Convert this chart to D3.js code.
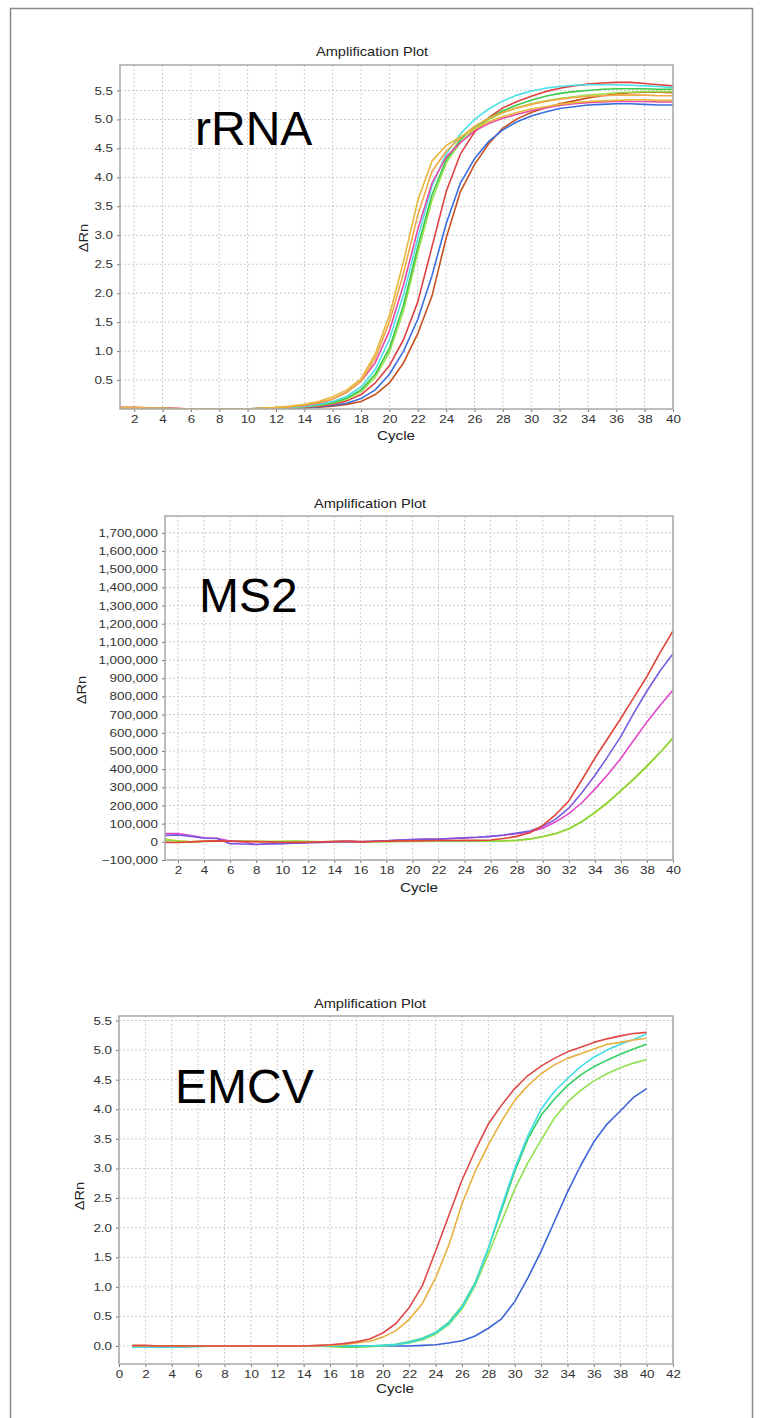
<!DOCTYPE html>
<html><head><meta charset="utf-8">
<script src="https://cdn.jsdelivr.net/npm/d3@7"></script>
<style>body{margin:0;background:#fff}svg{display:block}text{font-family:"Liberation Sans",Arial,sans-serif}</style>
</head><body>
<svg id="c" width="763" height="1418"></svg>
<script>
const cycles = [1,2,3,4,5,6,7,8,9,10,11,12,13,14,15,16,17,18,19,20,21,22,23,24,25,26,27,28,29,30,31,32,33,34,35,36,37,38,39,40];

// rRNA panel
const rrnaColors = ["#e6b83c","#f0a845","#e84aa8","#4ee0e8","#3cc84a","#9ae04a","#e04040","#3a6ee0","#c8501e"];
const rrnaGold = [0.02,0.02,0.01,0.01,0,0,0,0,0,0,0.01,0.03,0.05,0.08,0.13,0.21,0.33,0.52,0.95,1.62,2.55,3.6,4.28,4.55,4.7,4.83,4.96,5.05,5.12,5.18,5.22,5.26,5.29,5.31,5.32,5.33,5.34,5.34,5.33,5.33];
const rrnaOrange = [0.02,0.02,0.01,0.01,0,0,0,0,0,0,0.01,0.02,0.04,0.07,0.11,0.17,0.29,0.48,0.88,1.5,2.35,3.35,4.1,4.45,4.68,4.88,5.02,5.12,5.2,5.26,5.31,5.35,5.38,5.4,5.41,5.42,5.42,5.42,5.41,5.41];
const rrnaPink = [0.02,0.02,0.01,0.01,0,0,0,0,0,0,0.01,0.02,0.04,0.06,0.1,0.17,0.29,0.48,0.8,1.35,2.15,3.1,3.9,4.35,4.6,4.8,4.93,5.02,5.09,5.15,5.2,5.24,5.27,5.29,5.3,5.31,5.31,5.31,5.3,5.3];
const rrnaCyan = [0.02,0.02,0.01,0.01,0,0,0,0,0,0,0.01,0.02,0.03,0.05,0.08,0.13,0.22,0.38,0.68,1.2,1.98,2.95,3.85,4.4,4.75,5.0,5.18,5.32,5.42,5.49,5.54,5.57,5.59,5.6,5.6,5.6,5.59,5.58,5.57,5.55];
const rrnaGreen = [0.02,0.02,0.01,0.01,0,0,0,0,0,0,0.01,0.02,0.03,0.05,0.07,0.11,0.19,0.33,0.6,1.05,1.8,2.8,3.7,4.3,4.65,4.87,5.02,5.15,5.25,5.33,5.4,5.45,5.48,5.5,5.52,5.53,5.53,5.53,5.52,5.52];
const rrnaLightGreen = [0.02,0.02,0.01,0.01,0,0,0,0,0,0,0.01,0.01,0.02,0.04,0.06,0.1,0.17,0.3,0.55,0.98,1.7,2.7,3.6,4.25,4.6,4.83,5.0,5.12,5.2,5.27,5.32,5.36,5.39,5.42,5.44,5.46,5.47,5.48,5.48,5.48];
const rrnaRed = [0.03,0.03,0.02,0.02,0.01,0,0,0,0,0,0.01,0.01,0.02,0.03,0.05,0.08,0.14,0.25,0.45,0.75,1.2,1.85,2.8,3.75,4.4,4.78,5.03,5.2,5.31,5.4,5.48,5.54,5.58,5.61,5.63,5.64,5.64,5.62,5.6,5.58];
const rrnaBlue = [0.02,0.02,0.01,0.01,0,0,0,0,0,0,0,0.01,0.01,0.02,0.04,0.06,0.1,0.18,0.33,0.6,1.0,1.55,2.3,3.2,3.9,4.32,4.62,4.82,4.96,5.06,5.13,5.19,5.22,5.25,5.26,5.27,5.27,5.26,5.25,5.25];
const rrnaBrown = [0.02,0.02,0.01,0.01,0,0,0,0,0,0,0,0.01,0.01,0.02,0.03,0.05,0.08,0.13,0.25,0.45,0.8,1.3,1.95,2.95,3.75,4.22,4.58,4.85,5.01,5.12,5.2,5.27,5.32,5.37,5.41,5.44,5.46,5.47,5.47,5.46];
const rrnaXTicks = [2,4,6,8,10,12,14,16,18,20,22,24,26,28,30,32,34,36,38,40];
const rrnaYTicks = [0.5,1.0,1.5,2.0,2.5,3.0,3.5,4.0,4.5,5.0,5.5];

// MS2 panel
const ms2Colors = ["#c8d828","#88d840","#e048c8","#7a5ae0","#e0443a"];
const ms2YellowGreen = [15000,5000,0,3000,5000,5000,4000,3000,2000,3000,4000,2000,0,1000,2000,0,1000,2000,3000,3000,4000,4000,5000,5000,5000,4000,5000,8000,15000,28000,45000,70000,110000,160000,215000,280000,345000,415000,490000,570000];
const ms2Green = [10000,3000,0,2000,4000,4000,3000,2000,1000,2000,3000,1000,0,1000,1000,0,1000,1000,2000,2000,3000,3000,4000,4000,4000,4000,5000,9000,16000,29000,46000,72000,112000,162000,218000,282000,348000,418000,492000,572000];
const ms2Magenta = [45000,45000,35000,22000,20000,5000,0,-15000,-10000,-8000,-6000,-4000,-2000,2000,4000,2000,3000,6000,10000,13000,15000,15000,18000,22000,25000,30000,36000,45000,55000,75000,110000,155000,215000,290000,370000,460000,560000,660000,750000,835000];
const ms2Purple = [35000,38000,30000,20000,18000,-10000,-12000,-15000,-12000,-10000,-8000,-5000,-3000,0,2000,0,3000,6000,10000,12000,14000,15000,18000,22000,25000,30000,38000,48000,60000,85000,125000,185000,270000,365000,470000,580000,710000,830000,940000,1035000];
const ms2Red = [-3000,-4000,0,4000,5000,3000,2000,1000,0,-2000,-3000,-2000,0,2000,3000,0,2000,4000,5000,5000,6000,7000,7000,8000,8000,10000,18000,30000,50000,90000,150000,225000,340000,460000,570000,680000,795000,910000,1040000,1160000];
const ms2XTicks = [2,4,6,8,10,12,14,16,18,20,22,24,26,28,30,32,34,36,38,40];
const ms2YTicks = [-100000,0,100000,200000,300000,400000,500000,600000,700000,800000,900000,1000000,1100000,1200000,1300000,1400000,1500000,1600000,1700000];

// EMCV panel
const emcvColors = ["#3a64d8","#90e050","#30d060","#40dce8","#e8b040","#e04848"];
const emcvBlue = [0,0,-0.01,-0.01,-0.01,0,0,0,0,0,0,0,0,0,0,0,0,0,0,0,0,0,0.01,0.02,0.05,0.09,0.17,0.3,0.46,0.75,1.15,1.6,2.1,2.6,3.05,3.45,3.75,3.97,4.2,4.35];
const emcvLightGreen = [-0.02,-0.02,-0.02,-0.01,-0.01,0,0,0,0,0,0,0,0,0,0,-0.01,-0.02,-0.02,-0.01,0,0.02,0.05,0.1,0.2,0.36,0.62,1.02,1.55,2.1,2.65,3.1,3.48,3.85,4.12,4.32,4.48,4.6,4.7,4.78,4.84];
const emcvGreen = [-0.01,-0.01,-0.01,-0.01,0,0,0,0,0,0,0,0,0,0,0,0,-0.01,-0.01,0,0.01,0.03,0.07,0.13,0.23,0.4,0.67,1.07,1.65,2.3,2.95,3.5,3.9,4.17,4.4,4.58,4.72,4.83,4.93,5.02,5.1];
const emcvCyan = [-0.02,-0.02,-0.02,-0.02,-0.01,-0.01,0,0,0,0,0,0,0,0,0,0,0,0,0,0.01,0.02,0.06,0.12,0.22,0.38,0.65,1.05,1.65,2.35,3.0,3.55,4.0,4.3,4.52,4.72,4.88,5.0,5.1,5.18,5.27];
const emcvOrange = [0,0,0,0,0,0,0,0,0,0,0,0,0,0,0,0.01,0.02,0.05,0.08,0.15,0.26,0.45,0.72,1.15,1.7,2.4,2.95,3.4,3.8,4.15,4.4,4.6,4.75,4.86,4.94,5.02,5.1,5.13,5.17,5.2];
const emcvRed = [0.01,0.01,0,0,0,0,0,0,0,0,0,0,0,0,0.01,0.02,0.04,0.07,0.12,0.22,0.38,0.65,1.02,1.6,2.2,2.8,3.3,3.75,4.07,4.35,4.57,4.73,4.86,4.97,5.05,5.13,5.19,5.24,5.28,5.3];
const emcvXTicks = [0,2,4,6,8,10,12,14,16,18,20,22,24,26,28,30,32,34,36,38,40,42];
const emcvYTicks = [0.0,0.5,1.0,1.5,2.0,2.5,3.0,3.5,4.0,4.5,5.0,5.5];

const SX = 1.22; // horizontal text stretch seen in the source image
const svg = d3.select("#c");
svg.append("rect").attr("width",763).attr("height",1418).attr("fill","#fff");
svg.append("rect").attr("x",10.5).attr("y",8.5).attr("width",742).attr("height",1430)
  .attr("fill","none").attr("stroke","#8a8a8a").attr("stroke-width",1.5);

let clipId = 0;
function stretchedText(g, x, y, size, str, rot){
  return g.append("text")
    .attr("transform", rot ? `translate(${x},${y}) rotate(-90) scale(${SX},1)` : `translate(${x},${y}) scale(${SX},1)`)
    .attr("text-anchor","middle").attr("font-size",size).attr("fill","#222").text(str);
}
function panel(o){
  const g = svg.append("g");
  const x = d3.scaleLinear().domain(o.xDomain).range([o.x0,o.x1]);
  const y = d3.scaleLinear().domain(o.yDomain).range([o.y1,o.y0]);
  g.selectAll(".gx").data(o.xTicks).join("line")
    .attr("x1",d=>x(d)).attr("x2",d=>x(d)).attr("y1",o.y0).attr("y2",o.y1)
    .attr("stroke","#cccccc").attr("stroke-dasharray","2,2").attr("stroke-width",1);
  g.selectAll(".gy").data(o.yTicks).join("line")
    .attr("x1",o.x0).attr("x2",o.x1).attr("y1",d=>y(d)).attr("y2",d=>y(d))
    .attr("stroke","#cccccc").attr("stroke-dasharray","2,2").attr("stroke-width",1);
  const ax = g.append("g").attr("transform",`translate(0,${o.y1})`)
    .call(d3.axisBottom(x).tickValues(o.xTicks).tickFormat(d3.format("d")).tickSize(3).tickPadding(3));
  const ay = g.append("g").attr("transform",`translate(${o.x0},0)`)
    .call(d3.axisLeft(y).tickValues(o.yTicks).tickFormat(o.yFormat).tickSize(3).tickPadding(4));
  [ax,ay].forEach(a=>{
    a.select(".domain").remove();
    a.selectAll(".tick line").attr("stroke","#777");
    a.selectAll("text").attr("font-size",11).attr("fill","#333")
      .attr("font-family","'Liberation Sans',Arial,sans-serif")
      .attr("transform",`scale(${SX},1)`);
  });
  ay.selectAll("text").attr("x",-7/SX);
  const id = "clip"+(clipId++);
  svg.append("clipPath").attr("id",id).append("rect")
    .attr("x",o.x0).attr("y",o.y0).attr("width",o.x1-o.x0).attr("height",o.y1-o.y0);
  const line = d3.line().x((d,i)=>x(cycles[i])).y(d=>y(d));
  g.append("g").attr("clip-path",`url(#${id})`).selectAll("path").data(o.series).join("path")
    .attr("d",line).attr("fill","none").attr("stroke",(d,i)=>o.colors[i]).attr("stroke-width",1.6)
    .attr("stroke-linejoin","round");
  g.append("rect").attr("x",o.x0).attr("y",o.y0).attr("width",o.x1-o.x0).attr("height",o.y1-o.y0)
    .attr("fill","none").attr("stroke","#a8a8a8").attr("stroke-width",1.5);
  stretchedText(g,o.titleX,o.titleY,12,"Amplification Plot");
  stretchedText(g,o.cycX,o.cycY,12.5,"Cycle");
  stretchedText(g,o.ylX,o.ylY,12,"ΔRn",true);
  g.append("text").attr("x",o.bigX).attr("y",o.bigY).attr("font-size",48).attr("fill","#000").text(o.big);
}

panel({x0:120,x1:673,y0:65,y1:409,xDomain:[1,40],yDomain:[0,5.94],
  xTicks:rrnaXTicks,yTicks:rrnaYTicks,yFormat:d3.format(".1f"),
  series:[rrnaBrown,rrnaBlue,rrnaRed,rrnaLightGreen,rrnaGreen,rrnaCyan,rrnaPink,rrnaOrange,rrnaGold],
  colors:[rrnaColors[8],rrnaColors[7],rrnaColors[6],rrnaColors[5],rrnaColors[4],rrnaColors[3],rrnaColors[2],rrnaColors[1],rrnaColors[0]],
  titleX:372,titleY:56,cycX:396,cycY:440,ylX:88,ylY:238,big:"rRNA",bigX:195,bigY:145});

panel({x0:165,x1:673,y0:516,y1:860,xDomain:[1,40],yDomain:[-100000,1793000],
  xTicks:ms2XTicks,yTicks:ms2YTicks,yFormat:d3.format(","),
  series:[ms2YellowGreen,ms2Green,ms2Magenta,ms2Purple,ms2Red],colors:ms2Colors,
  titleX:370,titleY:508,cycX:419,cycY:892,ylX:86,ylY:690,big:"MS2",bigX:199,bigY:612});

panel({x0:119,x1:673,y0:1016,y1:1364,xDomain:[0,42],yDomain:[-0.304,5.576],
  xTicks:emcvXTicks,yTicks:emcvYTicks,yFormat:d3.format(".1f"),
  series:[emcvBlue,emcvLightGreen,emcvGreen,emcvCyan,emcvOrange,emcvRed],colors:emcvColors,
  titleX:370,titleY:1008,cycX:395,cycY:1393,ylX:84,ylY:1196,big:"EMCV",bigX:175,bigY:1103});
</script>
</body></html>
